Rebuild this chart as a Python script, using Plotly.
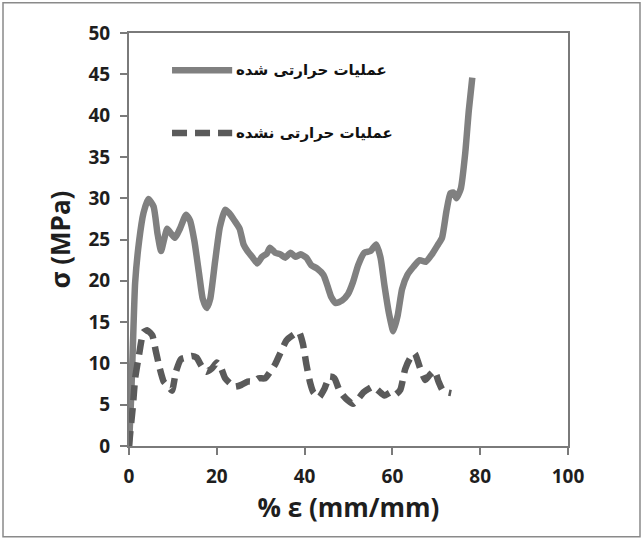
import plotly.graph_objects as go

# Heat-treated (solid)
treated_x = [0, 0.5, 0.9, 1.4, 2.3, 3.3, 4.4, 5.6, 6.5, 7.3, 7.9, 8.7, 9.6, 10.5, 11.6, 13.0, 13.9, 14.9,
             16.0, 16.8, 17.7, 18.5, 19.6, 20.7, 21.9, 22.8, 24.0, 25.2, 26.1, 27.0, 28.2, 29.2, 30.3,
             31.4, 32.1, 33.3, 34.5, 35.6, 36.8, 37.9, 39.1, 40.4, 41.5, 42.8, 44.3, 45.2, 46.1, 47.1,
             48.5, 49.9, 51.0, 52.2, 53.6, 55.0, 56.3, 57.3, 58.2, 59.2, 60.2, 61.2, 62.2, 63.4, 64.8,
             66.2, 67.6, 69.0, 70.4, 71.3, 72.3, 73.2, 73.9, 74.6, 75.6, 76.6, 77.4, 78.2]
treated_y = [0, 6.0, 12.4, 19.8, 24.8, 28.2, 29.9, 29.0, 25.7, 23.6, 24.8, 26.3, 25.7, 25.2, 26.3, 28.0, 27.3, 24.8,
             20.7, 17.8, 16.7, 17.8, 22.3, 26.5, 28.6, 28.2, 27.3, 26.3, 24.4, 23.6, 22.8, 22.1, 22.9,
             23.3, 24.0, 23.4, 23.2, 22.8, 23.4, 22.9, 23.2, 22.8, 21.9, 21.5, 20.7, 19.4, 18.0, 17.3,
             17.6, 18.4, 19.8, 21.9, 23.4, 23.6, 24.4, 22.8, 19.4, 16.1, 13.9, 15.8, 19.0, 20.7, 21.7,
             22.5, 22.3, 23.2, 24.4, 25.2, 28.4, 30.6, 30.7, 30.0, 31.2, 35.5, 40.6, 44.6]

# Not heat-treated (dashed)
untreated_x = [0, 0.5, 0.9, 1.4, 2.3, 3.3, 4.2, 5.3, 6.1, 7.0, 7.9, 9.0, 9.8, 10.7, 11.8, 13.0, 14.3, 15.4,
               16.5, 17.7, 18.9, 20.0, 21.0, 21.9, 23.0, 24.2, 25.6, 27.0, 28.4, 29.5, 31.0, 32.2, 33.3,
               34.5, 35.9, 37.3, 38.7, 39.6, 40.4, 41.2, 42.0, 43.3, 44.5, 45.7, 46.8, 47.8, 48.8, 49.9,
               51.0, 52.2, 53.4, 54.5, 55.6, 56.8, 58.2, 59.6, 60.6, 61.8, 62.9, 64.0, 65.1, 66.2, 67.5,
               68.5, 69.6, 70.5, 71.5, 72.5, 73.4]
untreated_y = [0, 2.8, 4.9, 8.2, 11.1, 13.8, 14.0, 13.4, 11.5, 9.4, 7.8, 7.2, 6.7, 9.0, 10.5, 10.7, 10.9, 10.7,
               9.7, 9.0, 9.4, 10.1, 9.4, 8.2, 7.6, 7.2, 7.4, 7.8, 7.8, 8.2, 8.2, 9.0, 9.9,
               11.3, 12.8, 13.4, 13.8, 12.4, 9.9, 7.8, 6.5, 5.9, 6.9, 8.4, 8.2, 6.9, 6.1, 5.5,
               5.1, 5.7, 6.5, 6.9, 7.2, 6.7, 6.1, 6.5, 6.2, 6.8, 9.3, 10.6, 11.2, 9.6, 8.0,
               8.6, 9.1, 7.8, 6.7, 6.5, 6.4]

name_treated = "عملیات حرارتی شده"
name_untreated = "عملیات حرارتی نشده"

x_ticks = [0, 20, 40, 60, 80, 100]
y_ticks = [0, 5, 10, 15, 20, 25, 30, 35, 40, 45, 50]

fig = go.Figure()
fig.add_trace(go.Scatter(x=treated_x, y=treated_y, mode="lines", name=name_treated,
                         line=dict(color="#808080", width=6.5, shape="spline", smoothing=0.5),
                         showlegend=False))
fig.add_trace(go.Scatter(x=untreated_x, y=untreated_y, mode="lines", name=name_untreated,
                         line=dict(color="#5a5a5a", width=6.5, dash="15px,8px", shape="spline", smoothing=0.5),
                         showlegend=False))

# manual legend (inside plot, upper-left)
legend_rows = [(45.5, name_treated, "#808080", "solid"), (37.9, name_untreated, "#5a5a5a", "15px,8px")]
for yy, label, col, dash in legend_rows:
    fig.add_shape(type="line", xref="x", yref="y", x0=9.8, x1=23.5, y0=yy, y1=yy,
                  line=dict(color=col, width=6.5, dash=dash))
    fig.add_annotation(x=24.0, y=yy, xref="x", yref="y", text="<b>" + label + "</b>",
                       showarrow=False, xanchor="left", yanchor="middle",
                       font=dict(family="DejaVu Sans", size=15, color="#111111"))

# outer frame
fig.add_shape(type="rect", xref="paper", yref="paper", x0=-0.287, x1=1.164, y0=-0.220, y1=1.073,
              line=dict(color="#8a8a8a", width=1.5), fillcolor="rgba(0,0,0,0)", layer="below")

axis_font = dict(family="Open Sans", size=19, color="#1e1e1e", weight="bold")
title_font = dict(family="Open Sans", size=26, color="#1e1e1e", weight="bold")
fig.update_layout(
    width=642, height=540,
    margin=dict(l=129, r=74, t=33, b=94, autoexpand=False),
    paper_bgcolor="white", plot_bgcolor="white",
    showlegend=False,
    xaxis=dict(range=[0, 100], tickvals=x_ticks, ticks="outside", ticklen=7, tickcolor="#7a7a7a",
               tickwidth=1.5, showline=True, linecolor="#7a7a7a", linewidth=2, mirror=True,
               showgrid=False, zeroline=False, tickfont=axis_font, automargin=False,
               ticklabelstandoff=5,
               title=dict(text="% ε (mm/mm)", font=title_font, standoff=1)),
    yaxis=dict(range=[0, 50], tickvals=y_ticks, ticks="outside", ticklen=7, tickcolor="#7a7a7a",
               tickwidth=1.5, showline=True, linecolor="#7a7a7a", linewidth=2, mirror=True,
               showgrid=False, zeroline=False, tickfont=axis_font, automargin=False,
               ticklabelstandoff=6,
               title=dict(text="σ (MPa)", font=title_font, standoff=10)),
)

fig.write_html("out.html", config={"displayModeBar": False},
               post_script="document.body.style.margin='0';")
